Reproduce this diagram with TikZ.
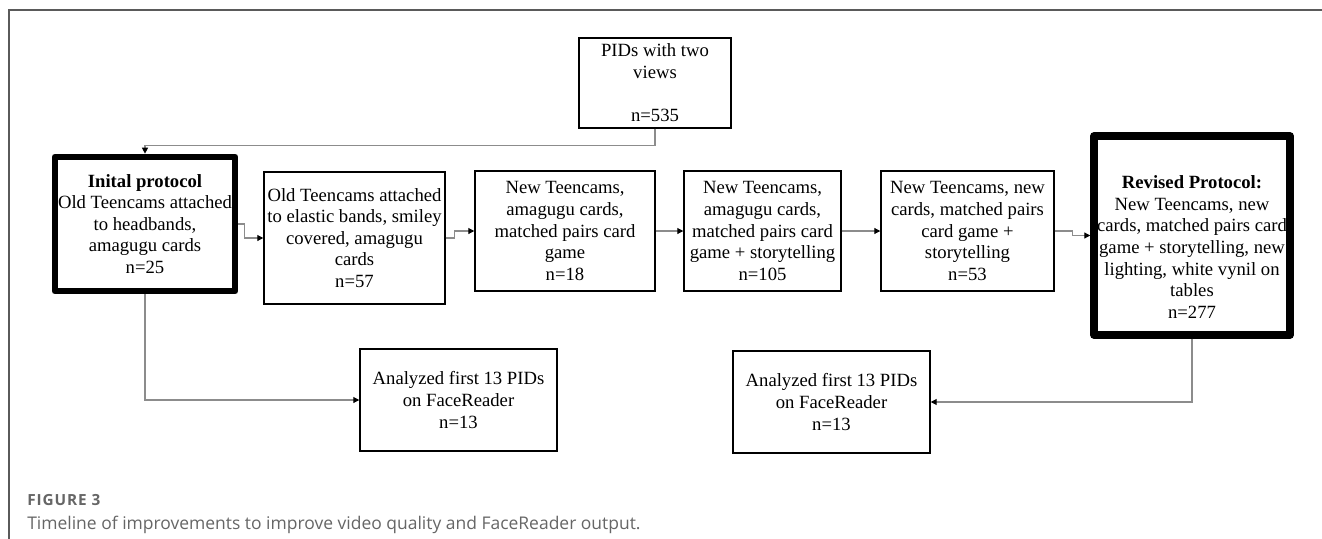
\documentclass[tikz,border=0pt]{standalone}
\usepackage{fontspec}
\setmainfont{Liberation Serif}
\newfontfamily\capfont{Open Sans}
\newfontfamily\caplabelfont[LetterSpace=6]{Open Sans}
\usetikzlibrary{arrows.meta}
\newdimen\px \px=0.75pt
\definecolor{conngray}{HTML}{8C8C8C}
\definecolor{framegray}{HTML}{5A5A5A}
\definecolor{capgray}{HTML}{666666}
\tikzset{
  stage/.style={draw=black, line width=1.1pt, fill=white, align=center, inner sep=0pt,
    font=\fontsize{14pt}{16.2pt}\selectfont},
  keystage/.style={stage, line width=5pt, line join=round},
  dims/.style 2 args={minimum width=#1\px, minimum height=#2\px},
  conn/.style={draw=conngray, line width=0.8pt,
    -{Triangle[length=4.5pt,width=4.5pt,color=black]}},
  frameline/.style={draw=framegray, line width=0.8pt},
}
\begin{document}
\begin{tikzpicture}[x=0.75pt,y=-0.75pt]
\useasboundingbox[fill=white] (0,0) rectangle (1322,539);

% page frame
\draw[frameline] (1322,10) -- (9,10) -- (9,539);

% source count
\node[stage, dims={152}{90}] (pids) at (655,83) {PIDs with two\\views\\\mbox{}\\n=535};

% protocol stages
\node[keystage, dims={180}{134}] (init) at (145,224)
  {\textbf{Inital protocol}\\Old Teencams attached\\to headbands,\\amagugu cards\\n=25};
\node[stage, dims={181}{132}] (b2) at (354.5,238)
  {Old Teencams attached\\to elastic bands, smiley\\covered, amagugu\\cards\\n=57};
\node[stage, dims={180}{120}] (b3) at (565,231)
  {New Teencams,\\amagugu cards,\\matched pairs card\\game\\n=18};
\node[stage, dims={157}{120}] (b4) at (762.5,231)
  {New Teencams,\\amagugu cards,\\matched pairs card\\game + storytelling\\n=105};
\node[stage, dims={173}{120}] (b5) at (967.5,231)
  {New Teencams, new\\cards, matched pairs\\card game +\\storytelling\\n=53};
\node[keystage, line width=5.6pt, dims={196}{199}] (rev) at (1192,235.5) {};
\node[align=center, inner sep=0pt, font=\fontsize{14pt}{16.2pt}\selectfont] (revtext) at (1192,247)
  {\textbf{Revised Protocol:}\\New Teencams, new\\cards, matched pairs card\\game + storytelling, new\\lighting, white vynil on\\tables\\n=277};

% analysis boxes
\node[stage, dims={197}{102}] (an1) at (458.5,400)
  {Analyzed first 13 PIDs\\on FaceReader\\n=13};
\node[stage, dims={197}{102}] (an2) at (831.5,402)
  {Analyzed first 13 PIDs\\on FaceReader\\n=13};

% connectors
\draw[conn] (pids.south) -- ++(0,17) -| (init.north);
\draw[conn] (init.east) -- ++(6,0) |- (b2.west);
\draw[conn] (b2.east) -- ++(9,0) |- (b3.west);
\draw[conn] (b3.east) -- (b4.west);
\draw[conn] (b4.east) -- (b5.west);
\draw[conn] (b5.east) -- ++(18,0) |- (rev.west);
\draw[conn] (init.south) |- (an1.west);
\draw[conn] (rev.south) |- (an2.east);

% caption
\node[anchor=base west, inner sep=0pt, text=capgray, font=\caplabelfont\bfseries\fontsize{11.5pt}{13pt}\selectfont] (figlabel) at (27,505) {FIGURE 3};
\node[anchor=base west, inner sep=0pt, text=capgray, font=\capfont\fontsize{13.1pt}{15pt}\selectfont] (figcaption) at (27,529)
  {Timeline of improvements to improve video quality and FaceReader output.};
\end{tikzpicture}
\end{document}
